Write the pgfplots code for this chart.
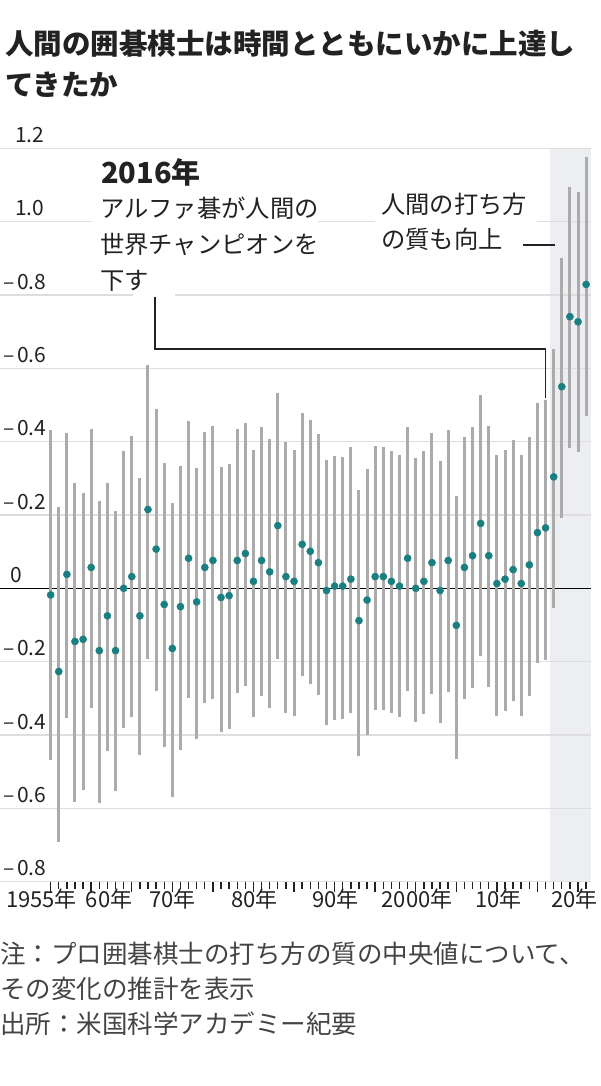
\documentclass[border=0pt]{standalone}
\usepackage{fontspec}
\setmainfont{Noto Sans CJK JP}
\usepackage{pgfplots}
\pgfplotsset{compat=1.18}
\usepackage{pgfplotstable}
\definecolor{dotc}{HTML}{1A7F80}
\definecolor{barc}{HTML}{ABABAB}
\definecolor{shadec}{HTML}{ECEEF1}
\definecolor{gridc}{HTML}{DEDEDE}
\definecolor{txt}{HTML}{222222}
\definecolor{notec}{HTML}{444444}

\pgfplotstableread{
year val hi lo
1955 -0.018 0.432 -0.468
1956 -0.227 0.223 -0.691
1957 0.038 0.425 -0.355
1958 -0.145 0.286 -0.582
1959 -0.139 0.261 -0.550
1960 0.057 0.434 -0.327
1961 -0.170 0.238 -0.586
1962 -0.075 0.288 -0.443
1963 -0.170 0.211 -0.552
1964 0.000 0.375 -0.382
1965 0.032 0.415 -0.350
1966 -0.075 0.302 -0.455
1967 0.215 0.610 -0.193
1968 0.107 0.488 -0.280
1969 -0.044 0.341 -0.434
1970 -0.164 0.234 -0.568
1971 -0.050 0.334 -0.441
1972 0.082 0.456 -0.300
1973 -0.037 0.329 -0.411
1974 0.057 0.426 -0.314
1975 0.076 0.444 -0.302
1976 -0.025 0.330 -0.393
1977 -0.020 0.339 -0.384
1978 0.076 0.434 -0.285
1979 0.095 0.450 -0.266
1980 0.019 0.377 -0.350
1981 0.076 0.441 -0.294
1982 0.045 0.408 -0.327
1983 0.171 0.532 -0.194
1984 0.032 0.399 -0.339
1985 0.019 0.377 -0.348
1986 0.120 0.479 -0.239
1987 0.101 0.459 -0.261
1988 0.070 0.421 -0.291
1989 -0.006 0.350 -0.373
1990 0.006 0.361 -0.359
1991 0.006 0.359 -0.357
1992 0.025 0.386 -0.341
1993 -0.088 0.268 -0.457
1994 -0.032 0.326 -0.400
1995 0.032 0.388 -0.332
1996 0.032 0.386 -0.332
1997 0.019 0.375 -0.341
1998 0.006 0.365 -0.352
1999 0.082 0.441 -0.279
2000 0.000 0.355 -0.364
2001 0.019 0.375 -0.344
2002 0.070 0.425 -0.288
2003 -0.006 0.346 -0.366
2004 0.076 0.432 -0.282
2005 -0.101 0.252 -0.466
2006 0.057 0.414 -0.302
2007 0.089 0.441 -0.273
2008 0.177 0.528 -0.185
2009 0.089 0.443 -0.270
2010 0.013 0.365 -0.348
2011 0.025 0.376 -0.335
2012 0.051 0.405 -0.306
2013 0.013 0.364 -0.348
2014 0.064 0.414 -0.295
2015 0.152 0.506 -0.205
2016 0.165 0.515 -0.195
2017 0.304 0.653 -0.055
2018 0.550 0.902 0.193
2019 0.741 1.094 0.384
2020 0.727 1.081 0.373
2021 0.829 1.177 0.470
}\data

\begin{document}
\begin{tikzpicture}[x=1pt,y=1pt]
% title
\node[anchor=base west, inner sep=0, text=txt, font=\fontsize{28.5}{34}\selectfont\bfseries] at (5,-55) {人間の囲碁棋士は時間とともにいかに上達し};
\node[anchor=base west, inner sep=0, text=txt, font=\fontsize{28.5}{34}\selectfont\bfseries] at (5,-96) {てきたか};

\begin{axis}[
  set layers=standard,
  at={(0pt,-881.6pt)}, anchor=south west,
  scale only axis, width=591pt, height=733.2pt,
  xmin=1948.76, xmax=2021.6, ymin=-0.8, ymax=1.2,
  axis line style={draw=none},
  ytick={-0.8,-0.6,...,1.2}, yticklabels={}, ytick style={draw=none},
  ymajorgrids, grid style={gridc, line width=1.5pt},
  xtick={1955,1960,...,2020}, minor xtick={1955,...,2021}, xticklabels={},
  xtick pos=bottom, tick align=outside,
  major tick length=10.5pt, minor tick length=7pt,
  xtick style={draw=txt, line width=1.4pt},
  minor x tick style={draw=txt, line width=1.4pt},
  clip=false,
]
\begin{pgfonlayer}{axis background}
\fill[shadec] (axis cs:2016.5,-0.8) rectangle (axis cs:2021.6,1.2);
\end{pgfonlayer}
\draw[black, line width=1.5pt] (axis cs:1948.76,0) -- (axis cs:2021.6,0);
\addplot[only marks, mark=none, barc,
  error bars/.cd, y dir=both, y explicit,
  error bar style={draw=barc, line width=3pt}, error mark=none]
  table[x=year, y=val, y error plus expr=\thisrow{hi}-\thisrow{val},
        y error minus expr=\thisrow{val}-\thisrow{lo}] {\data};
\addplot[only marks, mark=*, mark size=3.6pt, color=dotc, mark options={draw=dotc, fill=dotc}]
  table[x=year, y=val] {\data};
\end{axis}

% white gaps in gridlines behind annotations
\fill[white] (92,-219.5) rectangle (318,-224);
\fill[white] (133,-293) rectangle (175,-298);
\fill[white] (375,-219.5) rectangle (537,-224);

% y labels
\begin{scope}[every node/.style={anchor=base west, inner sep=0, text=txt, font=\fontsize{21}{24}\selectfont}]
\node at (15,-142.4) {1.2};
\node at (15,-215.7) {1.0};
\node at (10,-582.3) {0};
\end{scope}
\begin{scope}[every node/.style={anchor=base east, inner sep=0, text=txt, font=\fontsize{21}{24}\selectfont}]
\node at (46.5,-289) {–\kern2pt0.8};
\node at (46.5,-362.3) {–\kern2pt0.6};
\node at (46.5,-435.7) {–\kern2pt0.4};
\node at (46.5,-509) {–\kern2pt0.2};
\node at (46.5,-655.6) {–\kern2pt0.2};
\node at (46.5,-729) {–\kern2pt0.4};
\node at (46.5,-802.3) {–\kern2pt0.6};
\node at (46.5,-875.6) {–\kern2pt0.8};
\end{scope}

% x labels
\begin{scope}[every node/.style={anchor=base, inner sep=0, text=txt, font=\fontsize{22}{24}\selectfont}]
\node at (41.5,-907) {1955年};
\node at (109,-907) {60年};
\node at (172.5,-907) {70年};
\node at (254.5,-907) {80年};
\node at (335.5,-907) {90年};
\node at (417,-907) {2000年};
\node at (498.5,-907) {10年};
\node at (574.5,-907) {20年};
\end{scope}

% annotations
\node[anchor=base west, inner sep=0, text=txt, font=\fontsize{29}{32}\selectfont\bfseries] at (101,-183) {2016年};
\begin{scope}[every node/.style={anchor=base west, inner sep=0, text=txt, font=\fontsize{24.3}{28}\selectfont}]
\node at (100,-218) {アルファ碁が人間の};
\node at (100,-253.5) {世界チャンピオンを};
\node at (100,-289) {下す};
\node at (381,-213) {人間の打ち方};
\node at (381,-248) {の質も向上};
\end{scope}
\draw[txt, line width=1.5pt] (155,-297) -- (155,-349) -- (545.5,-349) -- (545.5,-398);
\draw[txt, line width=1.5pt] (523,-245) -- (555,-245);

% footnote
\begin{scope}[every node/.style={anchor=base west, inner sep=0, text=notec, font=\fontsize{25.5}{28}\selectfont}]
\node at (0,-963) {注：プロ囲碁棋士の打ち方の質の中央値について、};
\node at (0,-998) {その変化の推計を表示};
\node at (0,-1033) {出所：米国科学アカデミー紀要};
\end{scope}
\pgfresetboundingbox
\path[use as bounding box] (0,0) rectangle (600,-1086);
\end{tikzpicture}
\end{document}
